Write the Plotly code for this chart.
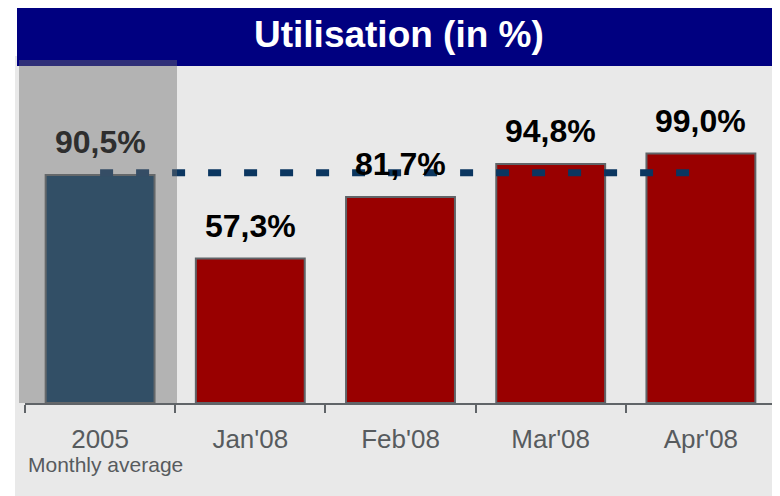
import plotly.graph_objects as go

# ---- data ----
categories = ["2005", "Jan'08", "Feb'08", "Mar'08", "Apr'08"]
utilisation = [90.5, 57.3, 81.7, 94.8, 99.0]
value_labels = ["90,5%", "57,3%", "81,7%", "94,8%", "99,0%"]
avg_line_x = ["2005", "Apr'08"]
avg_line_y = [91.4, 91.4]
sub_label = "Monthly average"
title_text = "Utilisation (in %)"

# ---- layout geometry (window pixels; the page body adds an 8px offset) ----
OFF = 8
WIN_W, WIN_H = 780, 496
W, H = WIN_W - OFF, WIN_H - OFF
PLOT_L, PLOT_R, PLOT_T, PLOT_B = 25, 776, 60, 403   # plot area in window pixels
ML = PLOT_L - OFF
MR = WIN_W - PLOT_R
MT = PLOT_T - OFF
MB = WIN_H - PLOT_B
PW, PH = W - ML - MR, H - MT - MB


def px(x):
    return (x - PLOT_L) / PW


def py(y):
    return (PLOT_B - y) / PH


FONT = "Liberation Sans, Arial, sans-serif"
bar_colors = ["#073961", "#990000", "#990000", "#990000", "#990000"]

fig = go.Figure()
fig.add_trace(go.Bar(
    x=categories, y=utilisation, width=0.725,
    marker=dict(color=bar_colors, line=dict(color="#606468", width=2)),
    hoverinfo="skip", showlegend=False,
))
fig.add_trace(go.Scatter(
    x=avg_line_x, y=avg_line_y, mode="lines",
    line=dict(color="#0b3660", width=7, dash="13px,23px"),
    hoverinfo="skip", showlegend=False,
))

annotations = []
for i, (v, t) in enumerate(zip(utilisation, value_labels)):
    annotations.append(dict(
        x=i, y=v, xref="x", yref="y", text="<b>" + t + "</b>",
        showarrow=False, yanchor="bottom", yshift=13,
        font=dict(family=FONT, size=32, color="#2e2e2e" if i == 0 else "#000000"),
    ))
annotations.append(dict(
    x=0, y=py(464), xref="x", yref="paper", text=sub_label,
    showarrow=False, yanchor="middle", xshift=5,
    font=dict(family=FONT, size=21, color="#575b5e"),
))
annotations.append(dict(
    x=px(399), y=py(34), xref="paper", yref="paper", text="<b>" + title_text + "</b>",
    showarrow=False, yanchor="middle", xanchor="center",
    font=dict(family=FONT, size=37, color="#ffffff"),
))

shapes = [
    dict(type="rect", xref="paper", yref="paper", x0=px(15), x1=px(781), y0=py(497), y1=py(56),
         fillcolor="#e9e9e9", line=dict(width=0), layer="below"),
    dict(type="rect", xref="paper", yref="paper", x0=px(17), x1=px(781), y0=py(66), y1=py(7),
         fillcolor="#000080", line=dict(width=0), layer="below"),
    dict(type="rect", xref="paper", yref="paper", x0=px(19), x1=px(177), y0=py(403), y1=py(60),
         fillcolor="rgba(108,108,108,0.43)", line=dict(width=0), layer="above"),
]

fig.update_layout(
    width=W, height=H,
    margin=dict(l=ML, r=MR, t=MT, b=MB, pad=0),
    paper_bgcolor="#ffffff", plot_bgcolor="rgba(0,0,0,0)",
    shapes=shapes, annotations=annotations,
    showlegend=False,
    xaxis=dict(
        type="category", range=[-0.5, 4.5], tickson="boundaries",
        ticks="outside", ticklen=8, tickwidth=2, tickcolor="#606468",
        showline=True, linecolor="#606468", linewidth=2,
        showgrid=False, zeroline=False, ticklabelstandoff=12,
        tickfont=dict(family=FONT, size=26, color="#575b5e"),
        fixedrange=True,
    ),
    yaxis=dict(
        range=[0, 136.1], visible=False, showgrid=False, zeroline=False,
        fixedrange=True,
    ),
)

fig.write_html("out.html")
